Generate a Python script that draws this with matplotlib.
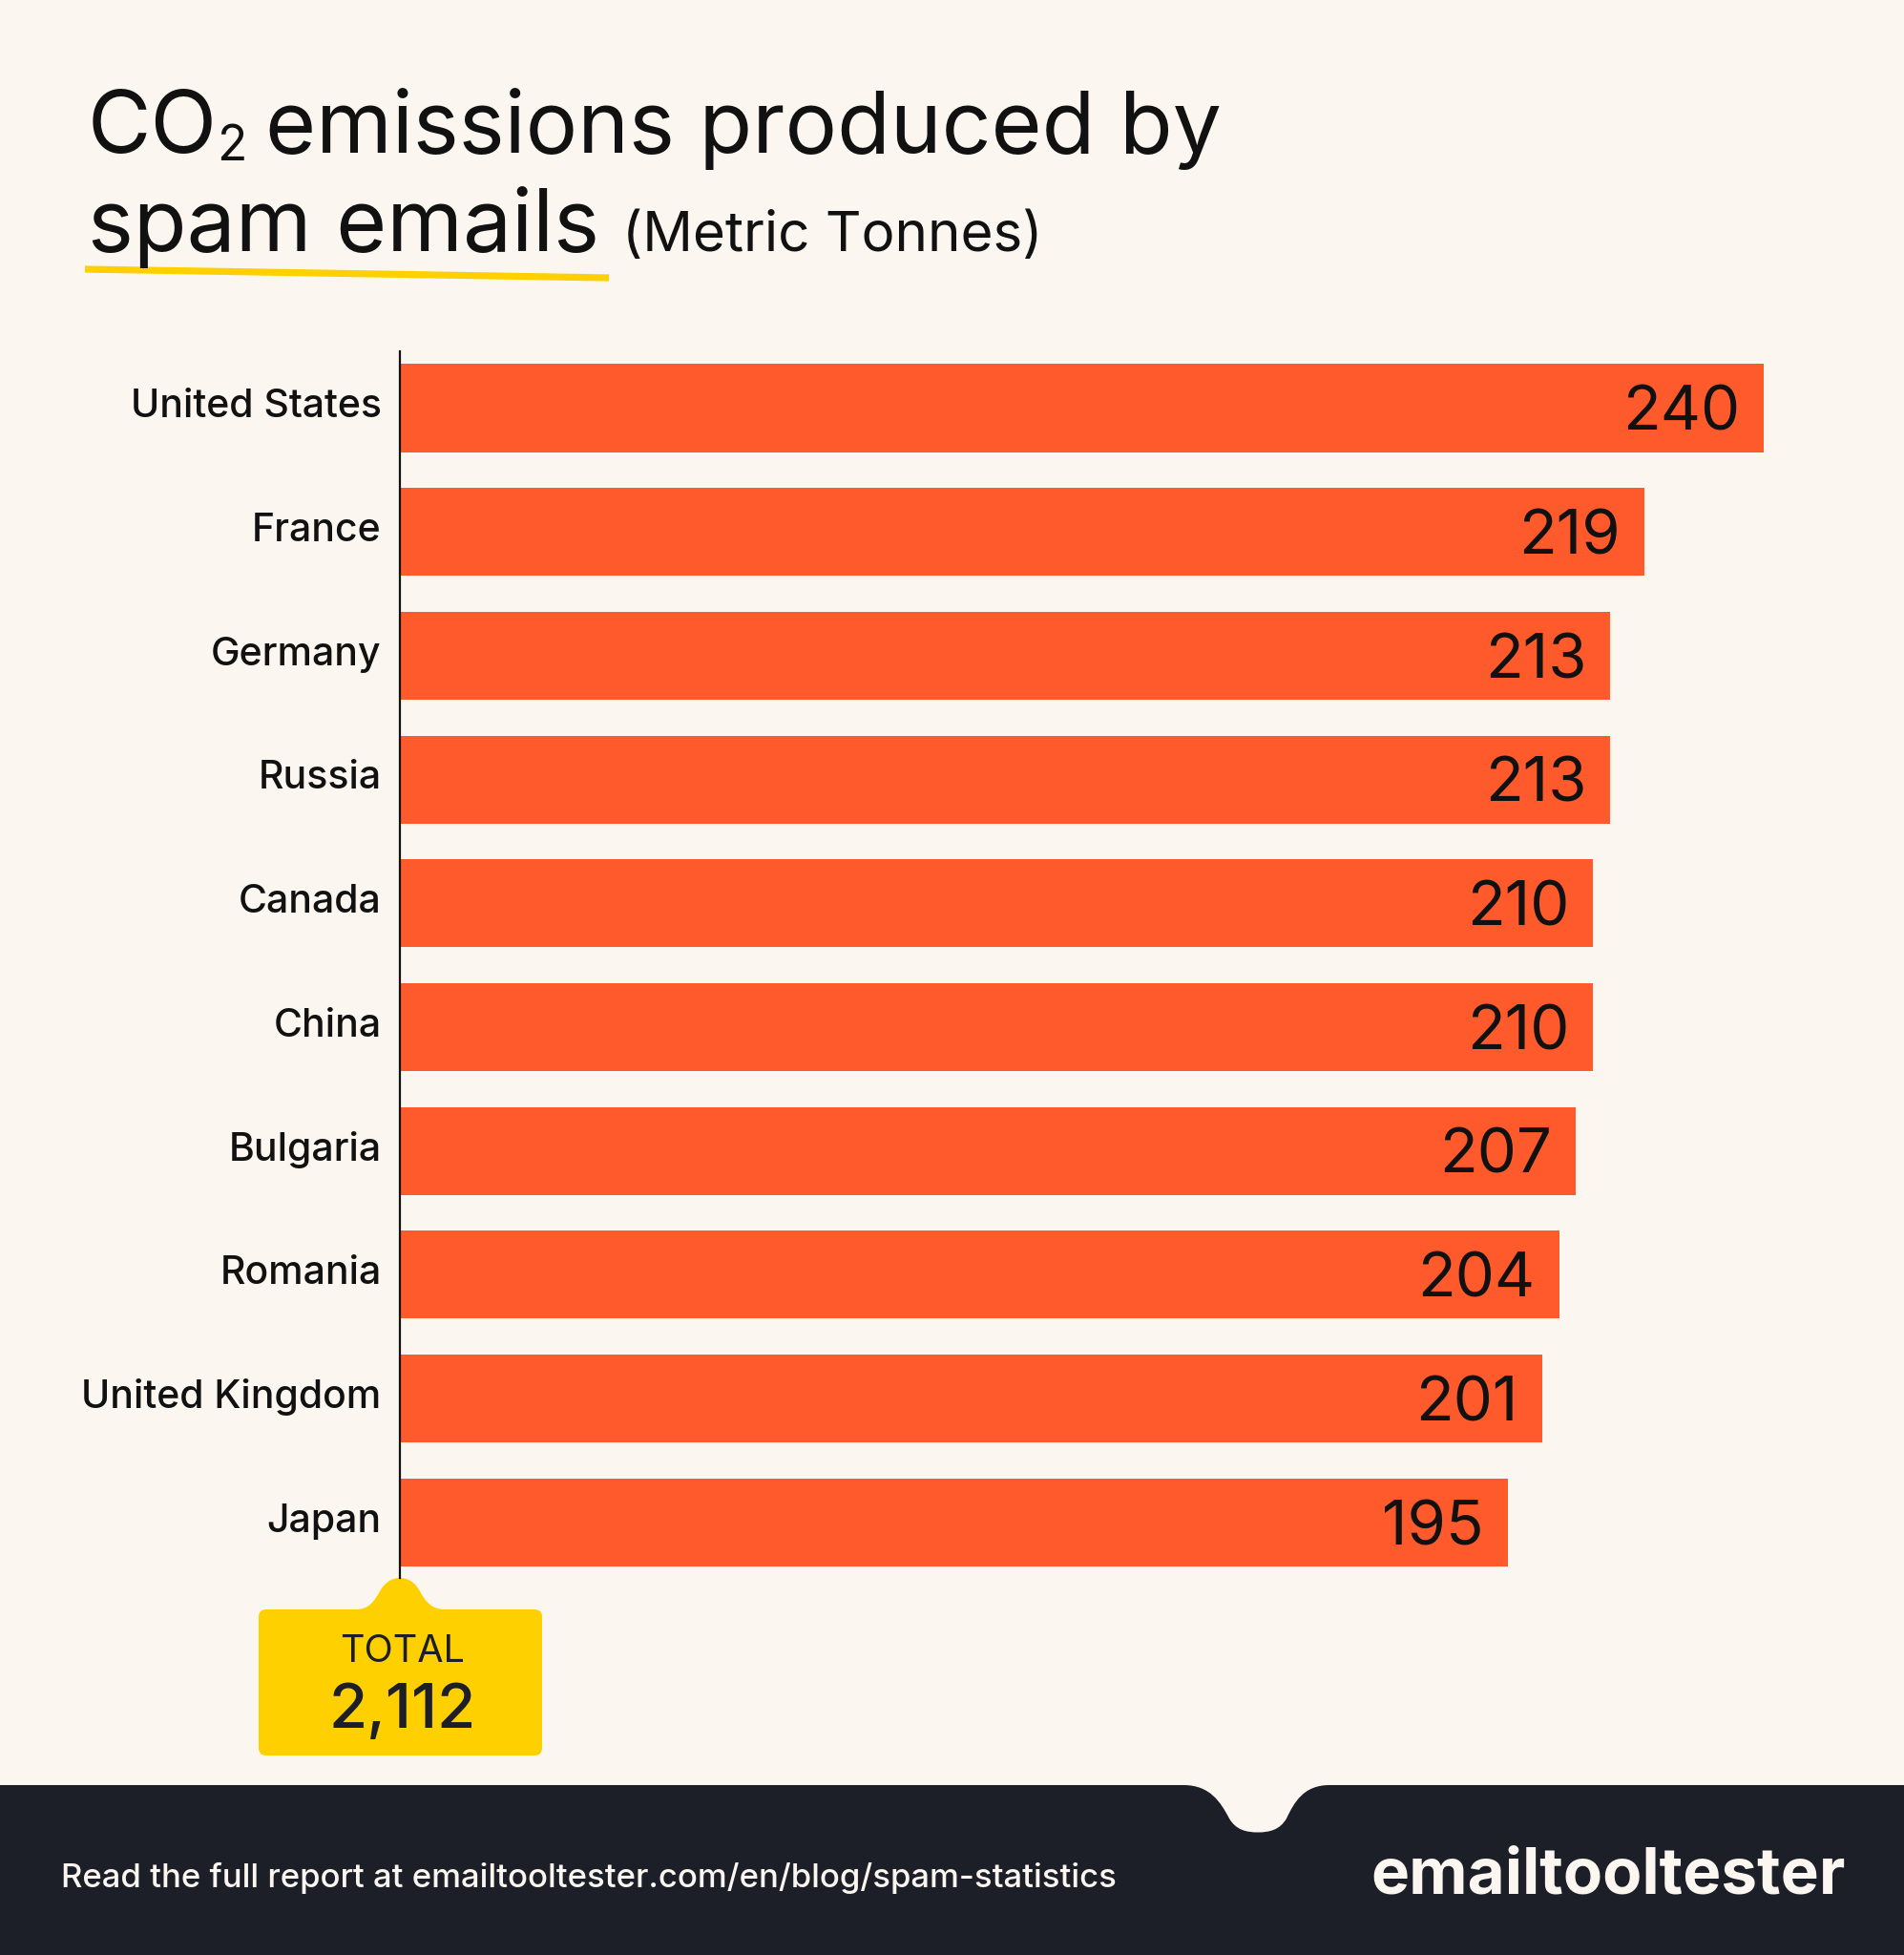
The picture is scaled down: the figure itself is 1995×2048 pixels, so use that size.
#!/usr/bin/env python3
import matplotlib
matplotlib.use('Agg')
import matplotlib.pyplot as plt
from matplotlib.patches import PathPatch, FancyBboxPatch
from matplotlib.path import Path

countries = ['United States', 'France', 'Germany', 'Russia', 'Canada',
             'China', 'Bulgaria', 'Romania', 'United Kingdom', 'Japan']
emissions = [240, 219, 213, 213, 210, 210, 207, 204, 201, 195]
total_label = '2,112'

W, H = 1995, 2048
BG = '#fbf7f0'
ORANGE = '#ff5a2b'
YELLOW = '#ffd000'
DARK = '#1c1e28'
INK = '#111111'

plt.rcParams['font.family'] = ['Inter', 'DejaVu Sans']

fig = plt.figure(figsize=(W / 100, H / 100), dpi=100, facecolor=BG)

# overlay in pixel coords for the decoration
bg = fig.add_axes([0, 0, 1, 1])
bg.set_xlim(0, W)
bg.set_ylim(H, 0)
bg.axis('off')

# title
bg.text(92, 160, 'CO', fontsize=65.5, color=INK, va='baseline')
bg.text(227, 168, '2', fontsize=37, color=INK, va='baseline')
bg.text(278, 160, 'emissions produced by', fontsize=65.5, color=INK, va='baseline')
bg.text(92, 263, 'spam emails', fontsize=65.5, color=INK, va='baseline')
bg.text(652, 263, '(Metric Tonnes)', fontsize=42, color=INK, va='baseline')
bg.plot([89, 638], [282, 291], color=YELLOW, lw=5.2, solid_capstyle='butt', zorder=1)

# bars
ax_left, ax_right = 419, 1995
ax_top, ax_bottom = 368, 1653
ax = fig.add_axes([ax_left / W, 1 - ax_bottom / H, (ax_right - ax_left) / W, (ax_bottom - ax_top) / H])
ax.patch.set_alpha(0)
y = list(range(len(countries)))
ax.barh(y, emissions, height=0.71, color=ORANGE)
ax.set_xlim(0, (ax_right - ax_left) / 5.954)
ax.set_ylim(9.449, -0.459)
ax.set_xticks([])
ax.set_yticks([])
for s in ['top', 'right', 'bottom']:
    ax.spines[s].set_visible(False)
ax.spines['left'].set_linewidth(1.6)
ax.spines['left'].set_color(INK)

for i, (c, v) in enumerate(zip(countries, emissions)):
    ax.annotate(c, xy=(0, i), xytext=(-14, 0.8), textcoords='offset points',
                ha='right', va='center', fontsize=29.5, fontweight='medium', color=INK)
    ax.annotate(str(v), xy=(v, i), xytext=(-18, -4.5), textcoords='offset points',
                ha='right', va='center', fontsize=47, color=INK)

# total tag
tag = Path(
    [(373, 1686), (386, 1686), (392, 1678), (398, 1667),
     (403, 1658), (410, 1653), (419, 1653),
     (428, 1653), (435, 1658), (440, 1667),
     (446, 1678), (452, 1686), (467, 1686), (373, 1686)],
    [Path.MOVETO, Path.CURVE4, Path.CURVE4, Path.CURVE4,
     Path.CURVE4, Path.CURVE4, Path.CURVE4,
     Path.CURVE4, Path.CURVE4, Path.CURVE4,
     Path.CURVE4, Path.CURVE4, Path.CURVE4, Path.CLOSEPOLY])
bg.add_patch(PathPatch(tag, fc=YELLOW, ec='none', zorder=2))
bg.add_patch(FancyBboxPatch((279, 1694), 281, 137, boxstyle='round,pad=8,rounding_size=8',
                            fc=YELLOW, ec='none', zorder=2))
bg.text(422, 1741, 'TOTAL', fontsize=28.5, color=DARK, ha='center', va='baseline', zorder=3)
bg.text(422, 1810, total_label, fontsize=47, fontweight='medium', color=DARK,
        ha='center', va='baseline', zorder=3)

# footer band with the notch
footer = Path(
    [(0, 1870), (1240, 1870),
     (1268, 1870), (1279, 1888), (1288, 1905),
     (1295, 1917), (1306, 1919.5), (1318, 1919.5),
     (1330, 1919.5), (1341, 1917), (1348, 1905),
     (1356, 1888), (1366, 1870), (1393, 1870),
     (W, 1870), (W, H), (0, H), (0, 1870)],
    [Path.MOVETO, Path.LINETO,
     Path.CURVE4, Path.CURVE4, Path.CURVE4,
     Path.CURVE4, Path.CURVE4, Path.CURVE4,
     Path.CURVE4, Path.CURVE4, Path.CURVE4,
     Path.CURVE4, Path.CURVE4, Path.CURVE4,
     Path.LINETO, Path.LINETO, Path.LINETO, Path.CLOSEPOLY])
bg.add_patch(PathPatch(footer, fc=DARK, ec='none', zorder=2))
bg.text(64, 1977, 'Read the full report at emailtooltester.com/en/blog/spam-statistics',
        fontsize=25, fontweight='medium', color=BG, va='baseline', zorder=3)
bg.text(1436, 1983, 'emailtooltester', fontsize=48.5, fontweight='bold', color=BG,
        va='baseline', zorder=3)

fig.savefig('out.png', dpi=100, facecolor=BG)
